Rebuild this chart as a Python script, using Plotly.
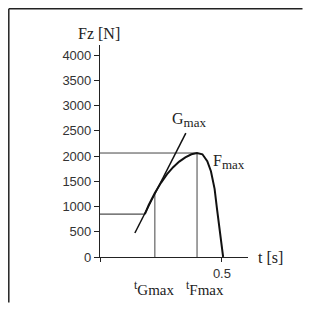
import plotly.graph_objects as go

# Data
t_curve = [0.184, 0.20, 0.225, 0.25, 0.275, 0.30, 0.325, 0.35, 0.375, 0.398, 0.42, 0.44, 0.455, 0.47, 0.48, 0.49, 0.50, 0.505]
F_curve = [850, 1030, 1270, 1470, 1640, 1780, 1890, 1975, 2035, 2060, 2035, 1900, 1700, 1350, 950, 520, 120, 0]
t_tangent = [0.143, 0.352]
F_tangent = [475, 2455]
t_base = [0, 0.184]
F_base = [850, 850]
t_Gmax = 0.225
F_at_Gmax = 1270
t_Fmax = 0.398
F_max = 2060
y_ticks = [0, 500, 1000, 1500, 2000, 2500, 3000, 3500, 4000]
x_ticks = [0, 0.5]
x_ticklabels = [" ", "0.5"]

# page body has an 8px default margin; figure coordinates are offset by it
OFF = 8
W, H = 295, 295
L, R, T, B = 92, 55, 37, 46
pw = W - L - R
ph = H - T - B

def px(xp):
    return (xp - OFF - L) / pw

def py(yp):
    return (H - B - (yp - OFF)) / ph

fig = go.Figure()
ref = dict(color="#444", width=1)
fig.add_trace(go.Scatter(x=t_base, y=F_base, mode="lines", line=dict(color="#222", width=1)))
fig.add_trace(go.Scatter(x=[0, t_Fmax], y=[F_max, F_max], mode="lines", line=ref))
fig.add_trace(go.Scatter(x=[t_Fmax, t_Fmax], y=[0, F_max], mode="lines", line=ref))
fig.add_trace(go.Scatter(x=[t_Gmax, t_Gmax], y=[0, F_at_Gmax], mode="lines", line=ref))
fig.add_trace(go.Scatter(x=t_tangent, y=F_tangent, mode="lines", line=dict(color="#111", width=1.5)))
fig.add_trace(go.Scatter(x=t_curve, y=F_curve, mode="lines", line=dict(color="#111", width=2)))

serif = "Liberation Serif"
sans = "Liberation Sans"

sub = '<sub><span style="font-size:13px">max</span></sub>'

fig.update_layout(
    width=W, height=H, showlegend=False,
    margin=dict(l=L, r=R, t=T, b=B),
    plot_bgcolor="white", paper_bgcolor="white",
    xaxis=dict(range=[0, 0.607], showgrid=False, zeroline=False, showline=True,
               linecolor="#222", linewidth=1.2, ticks="outside", ticklen=4,
               tickcolor="#222", tickvals=x_ticks, ticktext=x_ticklabels,
               tickfont=dict(family=sans, size=13, color="#333")),
    yaxis=dict(range=[0, 4200], showgrid=False, zeroline=False, showline=True,
               linecolor="#222", linewidth=1.2, ticks="outside", ticklen=5,
               tickcolor="#222", tickvals=y_ticks,
               tickfont=dict(family=sans, size=13, color="#333")),
    shapes=[
        dict(type="line", xref="paper", yref="paper", x0=px(8.8), x1=px(302.5), y0=py(8.8), y1=py(8.8),
             line=dict(color="#222", width=1.5)),
        dict(type="line", xref="paper", yref="paper", x0=px(8.8), x1=px(8.8), y0=py(8.8), y1=py(302.5),
             line=dict(color="#222", width=1.5)),
    ],
    annotations=[
        dict(text="Fz [N]", xref="paper", yref="paper", x=px(99), y=py(33), xanchor="center",
             yanchor="middle", showarrow=False, font=dict(family=serif, size=16, color="#222")),
        dict(text="t [s]", xref="paper", yref="paper", x=px(256), y=py(257), xanchor="left",
             yanchor="middle", showarrow=False, font=dict(family=serif, size=16, color="#222")),
        dict(text="G" + sub, xref="paper", yref="paper", x=px(170), y=py(120), xanchor="left",
             yanchor="middle", showarrow=False, font=dict(family=serif, size=16, color="#222")),
        dict(text="F" + sub, xref="paper", yref="paper", x=px(211), y=py(162), xanchor="left",
             yanchor="middle", showarrow=False, font=dict(family=serif, size=16, color="#222")),
        dict(text='<sup><span style="font-size:12px">t</span></sup>Gmax', xref="paper", yref="paper",
             x=px(132), y=py(288), xanchor="left", yanchor="middle", showarrow=False,
             font=dict(family=serif, size=15, color="#222")),
        dict(text='<sup><span style="font-size:12px">t</span></sup>Fmax', xref="paper", yref="paper",
             x=px(184), y=py(288), xanchor="left", yanchor="middle", showarrow=False,
             font=dict(family=serif, size=15, color="#222")),
    ],
)

fig.write_html("out.html")
